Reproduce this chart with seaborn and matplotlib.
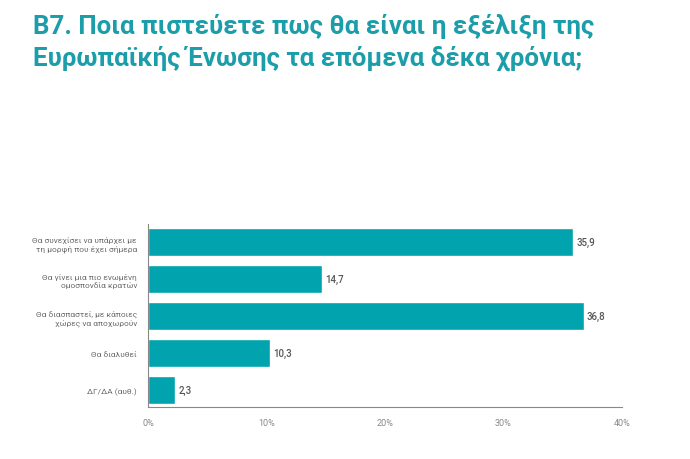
import matplotlib
matplotlib.use("Agg")
import matplotlib.pyplot as plt
import seaborn as sns
import pandas as pd

categories = [
    "Θα συνεχίσει να υπάρχει με\nτη μορφή που έχει σήμερα",
    "Θα γίνει μια πιο ενωμένη\nομοσπονδία κρατών",
    "Θα διασπαστεί, με κάποιες\nχώρες να αποχωρούν",
    "Θα διαλυθεί",
    "ΔΓ/ΔΑ (αυθ.)",
]
values = [35.9, 14.7, 36.8, 10.3, 2.3]
xticks = [0, 10, 20, 30, 40]
xtick_labels = ["0%", "10%", "20%", "30%", "40%"]
title = "Β7. Ποια πιστεύετε πως θα είναι η εξέλιξη της\nΕυρωπαϊκής Ένωσης τα επόμενα δέκα χρόνια;"

sns.set_style("white")
plt.rcParams["font.family"] = ["Roboto", "DejaVu Sans"]

df = pd.DataFrame({"cat": categories, "val": values})
teal = "#00A3AE"
gray = "#6b6b6b"

fig = plt.figure(figsize=(6.9, 4.6), dpi=100)
ax = fig.add_axes([148/690, 1-408/460, (622-148)/690, (408-225)/460])
sns.barplot(data=df, x="val", y="cat", color=teal, saturation=1, width=0.76, ax=ax, orient="h")
ax.set_xlim(0, 40)
ax.set_ylim(4.46, -0.5)
ax.set_xticks(xticks)
ax.set_xticklabels(xtick_labels, fontsize=6.5, color="#888888")
ax.tick_params(axis="x", direction="in", length=4, width=0.8, color="#777777", pad=8)
ax.tick_params(axis="y", length=0, pad=8)
for lbl in ax.get_yticklabels():
    lbl.set_fontsize(6)
    lbl.set_color(gray)
    lbl.set_horizontalalignment("right")
    lbl.set_multialignment("right")
ax.set_xlabel("")
ax.set_ylabel("")
for s in ["top", "right"]:
    ax.spines[s].set_visible(False)
for s in ["left", "bottom"]:
    ax.spines[s].set_color("#888888")
    ax.spines[s].set_linewidth(0.8)
for p, v in zip(ax.patches, values):
    ax.text(p.get_width() + 0.25, p.get_y() + p.get_height()/2, f"{v:.1f}".replace(".", ","),
            va="center", ha="left", fontsize=7, color="#555555", fontweight="medium")

fig.text(33/690, 1-14/460, title, ha="left", va="top", fontsize=18.6, fontweight="bold",
         color="#1B9DAA", linespacing=1.32)

fig.savefig("out.png", dpi=100)
